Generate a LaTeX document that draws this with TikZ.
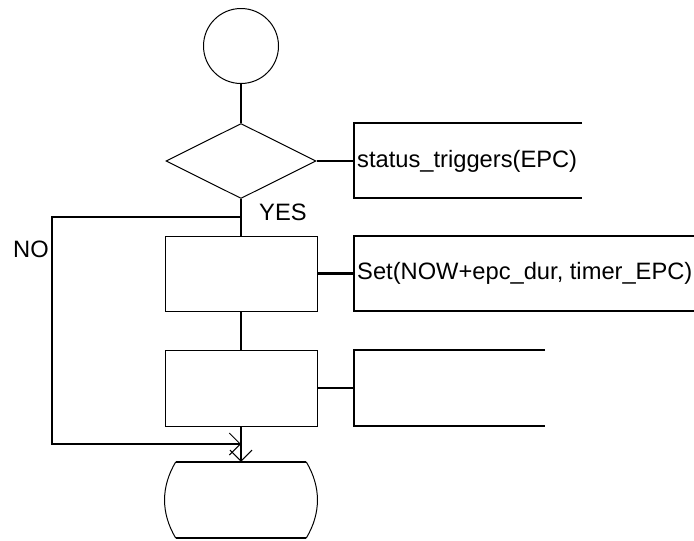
\documentclass[tikz,border=0pt]{standalone}
\usepackage{fontspec}
\setmainfont{Liberation Sans}
\usetikzlibrary{shapes.geometric,arrows.meta,calc}
\begin{document}
\begin{tikzpicture}[x=1pt,y=-1pt,
  thin line/.style={draw=black,line width=1pt},
  conn/.style={draw=black,line width=2.4pt},
  arr/.style={conn,-{Straight Barb[length=11pt,width=22pt,line width=1pt]}},
  lbl/.style={font=\fontsize{23.7}{28}\selectfont,inner sep=0pt},
  procbox/.style={rectangle,thin line,minimum width=152pt,minimum height=75pt,inner sep=0pt}]
\useasboundingbox (0,0) rectangle (694,541);
% shapes
\node[circle,thin line,minimum size=75pt,inner sep=0pt] (start) at (241,46) {};
\node[diamond,thin line,minimum width=150pt,minimum height=75pt,inner sep=0pt] (dec) at (241,161) {};
\node[procbox] (box1) at (241,273.5) {};
\node[procbox,minimum height=76pt] (box2) at (241,388) {};
\node[rectangle,minimum width=130pt,minimum height=76pt,inner sep=0pt] (term) at (241,500) {};
\draw[thin line] (term.north west) .. controls ($(term.north west)+(-15,25)$) and ($(term.south west)+(-15,-25)$) .. (term.south west);
\draw[thin line] (term.north east) .. controls ($(term.north east)+(15,25)$) and ($(term.south east)+(15,-25)$) .. (term.south east);
\draw[conn] (term.north west) -- (term.north east);
\draw[conn] (term.south west) -- (term.south east);
% comment brackets
\coordinate (c1) at (354,161);
\coordinate (c2) at (354,273.5);
\coordinate (c3) at (354,388);
\draw[conn] (582,123) -- (354,123) -- (354,198) -- (582,198);
\draw[conn] (694,236) -- (354,236) -- (354,311) -- (694,311);
\draw[conn] (545,350) -- (354,350) -- (354,426) -- (545,426);
\node[lbl,anchor=west] (t1) at (357,161) {status\_triggers(EPC)};
\node[lbl,anchor=west] (t2) at (357,273.5) {Set(NOW+epc\_dur, timer\_EPC)};
% connectors
\draw[conn] (start.south) -- (dec.north);
\draw[conn] (dec.east) -- (c1);
\draw[conn] (dec.south) -- (box1.north);
\draw[conn] (box1.east) -- (c2);
\draw[conn] (box1.south) -- (box2.north);
\draw[conn] (box2.east) -- (c3);
\draw[arr] (box2.south) -- (term.north);
\coordinate (nofork) at (241,217);
\coordinate (nomerge) at (241,444);
\draw[arr] (nofork) -- (52,217) -- (52,444) -- (nomerge);
\node[lbl,anchor=west] (yes) at (259,212) {YES};
\node[lbl] (no) at (31,249.5) {NO};
\end{tikzpicture}
\end{document}
